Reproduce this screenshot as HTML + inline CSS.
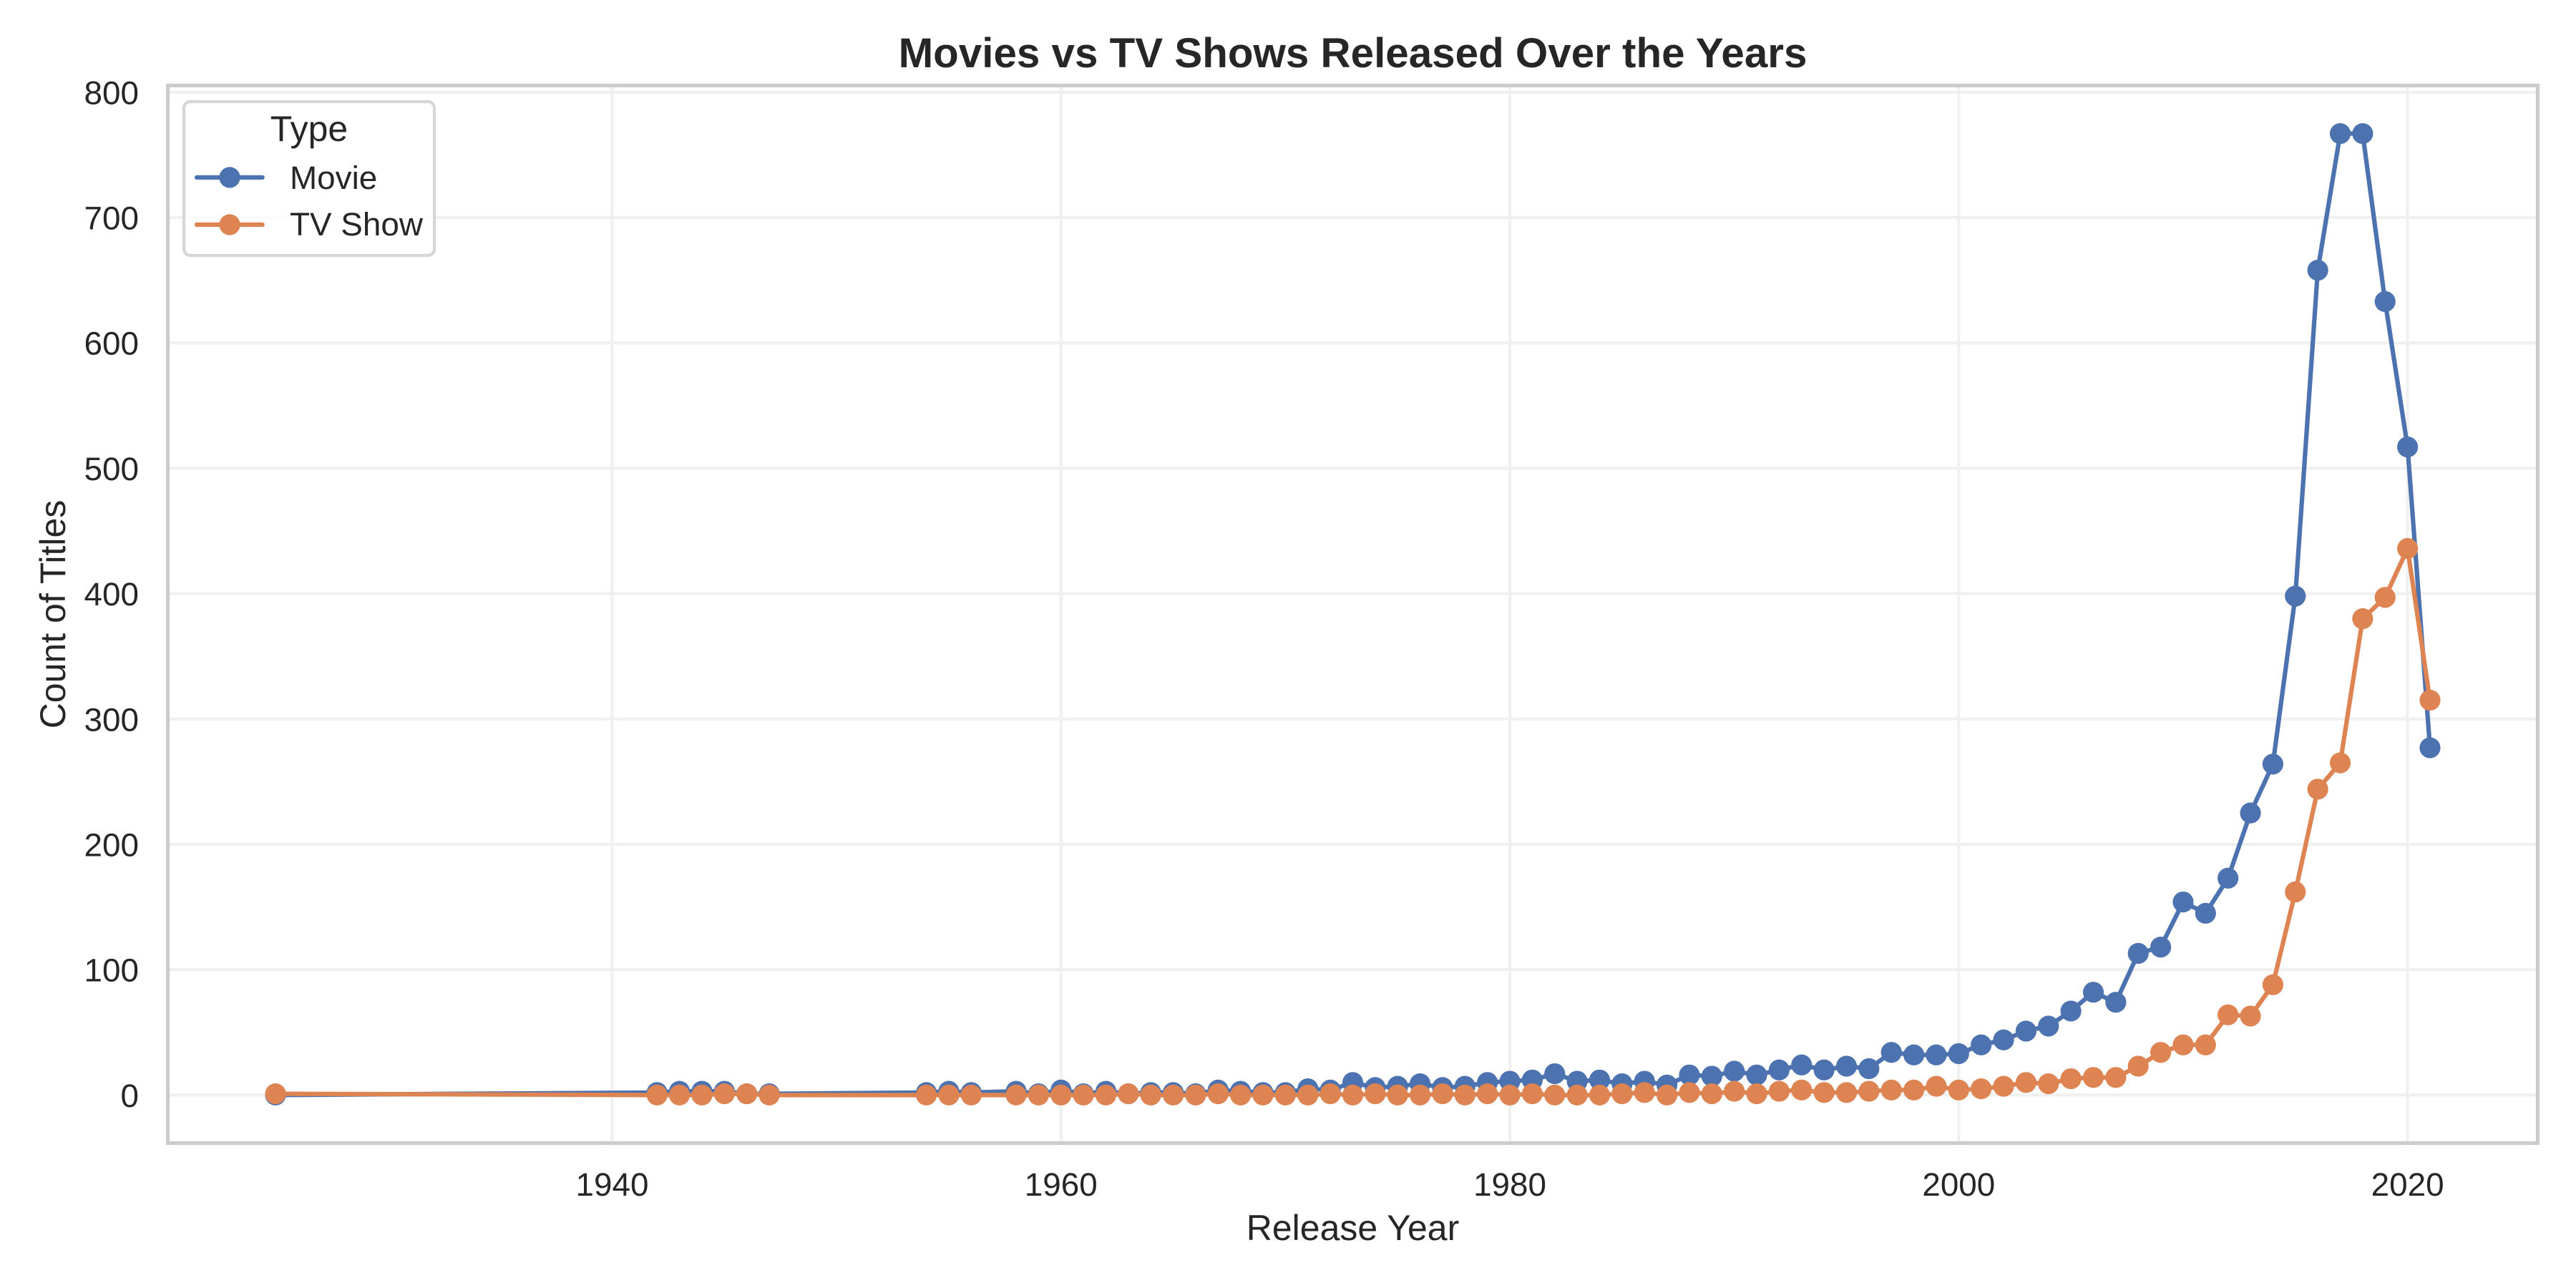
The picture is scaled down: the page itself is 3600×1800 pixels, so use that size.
<!DOCTYPE html>
<html lang="en">
<head>
<meta charset="utf-8">
<title>Movies vs TV Shows Released Over the Years</title>
<style>
html,body{margin:0;padding:0;background:#fff;width:3600px;height:1800px;overflow:hidden}
svg{display:block}
text{font-family:"Liberation Sans",Arial,sans-serif;fill:#262626}
</style>
</head>
<body>
<svg id="chart" xmlns="http://www.w3.org/2000/svg" width="3600" height="1800" viewBox="0 0 3600 1800">
  <rect x="0" y="0" width="3600" height="1800" fill="#ffffff"/>
  <g id="grid"></g>
  <g id="series"></g>
  <rect x="234.5" y="119.5" width="3312" height="1478" fill="none" stroke="#cccccc" stroke-width="5.2"/>
  <g id="tick-labels"></g>
  <text x="1890.5" y="94" text-anchor="middle" font-size="58.33" font-weight="700">Movies vs TV Shows Released Over the Years</text>
  <text x="1890.5" y="1733" text-anchor="middle" font-size="50">Release Year</text>
  <text transform="translate(91 858.5) rotate(-90)" text-anchor="middle" font-size="50">Count of Titles</text>
  <g>
    <rect x="257" y="142" width="350" height="215" rx="9.2" ry="9.2" fill="#ffffff" fill-opacity="0.8" stroke="#d6d6d6" stroke-width="4.17"/>
    <text x="432" y="197" text-anchor="middle" font-size="50">Type</text>
    <g>
      <line x1="275" y1="248" x2="366.7" y2="248" stroke="#4C72B0" stroke-width="6.25" stroke-linecap="round"/>
      <circle cx="321" cy="248" r="14.6" fill="#4C72B0"/>
      <text x="405" y="264" font-size="45.83">Movie</text>
    </g>
    <g>
      <line x1="275" y1="314" x2="366.7" y2="314" stroke="#DD8452" stroke-width="6.25" stroke-linecap="round"/>
      <circle cx="321" cy="314" r="14.6" fill="#DD8452"/>
      <text x="405" y="329" font-size="45.83">TV Show</text>
    </g>
  </g>
</svg>
<script>
const years = [1925,1942,1943,1944,1945,1946,1947,1954,1955,1956,1958,1959,1960,1961,1962,1963,1964,1965,1966,1967,1968,1969,1970,1971,1972,1973,1974,1975,1976,1977,1978,1979,1980,1981,1982,1983,1984,1985,1986,1987,1988,1989,1990,1991,1992,1993,1994,1995,1996,1997,1998,1999,2000,2001,2002,2003,2004,2005,2006,2007,2008,2009,2010,2011,2012,2013,2014,2015,2016,2017,2018,2019,2020,2021];
const movieCounts = [0,2,3,3,3,1,1,2,3,2,3,1,4,1,3,1,2,2,1,4,3,2,2,5,4,10,6,7,9,6,7,10,11,12,17,11,12,9,11,8,16,15,19,16,20,24,20,23,21,34,32,32,33,40,44,51,55,67,82,74,113,118,154,145,173,225,264,398,658,767,767,633,517,277];
const tvCounts = [1,0,0,0,1,1,0,0,0,0,0,0,0,0,0,1,0,0,0,1,0,0,0,0,1,0,1,0,0,1,0,1,0,1,0,0,0,1,2,0,2,1,3,1,3,4,2,2,3,4,4,7,4,5,7,10,9,13,14,14,23,34,40,40,64,63,88,162,244,265,380,397,436,315];
const xTickLabels = [1940,1960,1980,2000,2020];
const yTickLabels = [0,100,200,300,400,500,600,700,800];

const SVG_NS = 'http://www.w3.org/2000/svg';
const plot = {left:234.5, right:3546.5, top:119.5, bottom:1597.5};
const xDomain = [1920.2, 2025.8];
const yDomain = [-38.35, 805.35];

function xScale(v){
  return plot.left + (v - xDomain[0]) / (xDomain[1] - xDomain[0]) * (plot.right - plot.left);
}
function yScale(v){
  return plot.bottom - (v - yDomain[0]) / (yDomain[1] - yDomain[0]) * (plot.bottom - plot.top);
}
function make(tag, attrs, parent){
  const el = document.createElementNS(SVG_NS, tag);
  for (const k in attrs) el.setAttribute(k, attrs[k]);
  parent.appendChild(el);
  return el;
}

const gridLayer = document.getElementById('grid');
const tickLayer = document.getElementById('tick-labels');
const seriesLayer = document.getElementById('series');

xTickLabels.forEach(function(t){
  const x = xScale(t);
  const g = make('line', {x1:x, x2:x, y1:plot.top, y2:plot.bottom, stroke:'#f0f0f0', 'stroke-width':4.17}, gridLayer);
  
  
  const l = make('text', {x:x, y:1671, 'text-anchor':'middle', 'font-size':45.83}, tickLayer);
  l.textContent = String(t);
  
  
});

yTickLabels.forEach(function(t){
  const y = yScale(t);
  const g = make('line', {x1:plot.left, x2:plot.right, y1:y, y2:y, stroke:'#f0f0f0', 'stroke-width':4.17}, gridLayer);
  
  
  const l = make('text', {x:194, y:y + 16.5, 'text-anchor':'end', 'font-size':45.83}, tickLayer);
  l.textContent = String(t);
  
  
});

function drawSeries(values, color, lineName, pointName, groupName){
  const group = make('g', {}, seriesLayer);
  
  
  const pts = years.map(function(yr, i){ return xScale(yr).toFixed(2) + ',' + yScale(values[i]).toFixed(2); }).join(' ');
  const line = make('polyline', {points:pts, fill:'none', stroke:color, 'stroke-width':6.25, 'stroke-linejoin':'round', 'stroke-linecap':'round'}, group);
  
  
  years.forEach(function(yr, i){
    const c = make('circle', {cx:xScale(yr), cy:yScale(values[i]), r:14.6, fill:color}, group);
    
    
  });
}

drawSeries(movieCounts, '#4C72B0', 'movie-line', 'movie-point', 'movie-series');
drawSeries(tvCounts, '#DD8452', 'tv-show-line', 'tv-show-point', 'tv-show-series');
</script>
</body>
</html>
